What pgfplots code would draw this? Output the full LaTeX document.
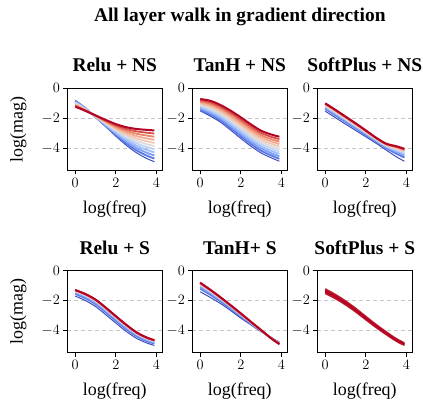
\documentclass[border=0pt]{standalone}
\usepackage{fontspec}
\setmainfont{Liberation Serif}
\usepackage{pgfplots}
\usepackage{pgfplotstable}
\pgfplotsset{compat=1.18}

\definecolor{cw0}{RGB}{59,76,192}
\definecolor{cw1}{RGB}{90,119,226}
\definecolor{cw2}{RGB}{124,158,246}
\definecolor{cw3}{RGB}{158,189,252}
\definecolor{cw4}{RGB}{191,210,243}
\definecolor{cw5}{RGB}{221,220,220}
\definecolor{cw6}{RGB}{240,201,182}
\definecolor{cw7}{RGB}{244,171,143}
\definecolor{cw8}{RGB}{235,131,105}
\definecolor{cw9}{RGB}{214,78,69}
\definecolor{cw10}{RGB}{180,4,38}

\pgfplotstableread{
x y0 y1 y2 y3 y4 y5 y6 y7 y8 y9 y10
0 -0.80 -0.842 -0.884 -0.926 -0.968 -1.01 -1.052 -1.094 -1.136 -1.178 -1.22
0.5 -1.30 -1.32 -1.34 -1.36 -1.38 -1.40 -1.42 -1.44 -1.46 -1.48 -1.50
1 -1.92 -1.908 -1.896 -1.884 -1.872 -1.86 -1.848 -1.836 -1.824 -1.812 -1.80
1.5 -2.55 -2.505 -2.46 -2.415 -2.37 -2.325 -2.28 -2.235 -2.19 -2.145 -2.10
2 -3.18 -3.10 -3.02 -2.94 -2.86 -2.78 -2.70 -2.62 -2.54 -2.46 -2.38
2.5 -3.77 -3.651 -3.532 -3.413 -3.294 -3.175 -3.056 -2.937 -2.818 -2.699 -2.58
3 -4.27 -4.113 -3.956 -3.799 -3.642 -3.485 -3.328 -3.171 -3.014 -2.857 -2.70
3.5 -4.65 -4.461 -4.272 -4.083 -3.894 -3.705 -3.516 -3.327 -3.138 -2.949 -2.76
3.9 -4.88 -4.672 -4.464 -4.256 -4.048 -3.84 -3.632 -3.424 -3.216 -3.008 -2.80
}\tabA

\pgfplotstableread{
x y0 y1 y2 y3 y4 y5 y6 y7 y8 y9 y10
0 -1.50 -1.421 -1.342 -1.263 -1.184 -1.105 -1.026 -0.947 -0.868 -0.789 -0.71
0.5 -1.85 -1.748 -1.646 -1.544 -1.442 -1.34 -1.238 -1.136 -1.034 -0.932 -0.83
1 -2.25 -2.136 -2.022 -1.908 -1.794 -1.68 -1.566 -1.452 -1.338 -1.224 -1.11
1.5 -2.78 -2.651 -2.522 -2.393 -2.264 -2.135 -2.006 -1.877 -1.748 -1.619 -1.49
2 -3.33 -3.19 -3.05 -2.91 -2.77 -2.63 -2.49 -2.35 -2.21 -2.07 -1.93
2.5 -3.85 -3.705 -3.56 -3.415 -3.27 -3.125 -2.98 -2.835 -2.69 -2.545 -2.40
3 -4.30 -4.152 -4.004 -3.856 -3.708 -3.56 -3.412 -3.264 -3.116 -2.968 -2.82
3.5 -4.62 -4.465 -4.31 -4.155 -4.00 -3.845 -3.69 -3.535 -3.38 -3.225 -3.07
3.9 -4.85 -4.687 -4.524 -4.361 -4.198 -4.035 -3.872 -3.709 -3.546 -3.383 -3.22
}\tabB

\pgfplotstableread{
x y0 y1 y2 y3 y4 y5 y6 y7 y8 y9 y10
0 -1.52 -1.364 -1.286 -1.224 -1.172 -1.13 -1.094 -1.062 -1.036 -1.016 -1.00
0.5 -1.95 -1.794 -1.716 -1.654 -1.602 -1.56 -1.524 -1.492 -1.466 -1.446 -1.43
1 -2.38 -2.23 -2.155 -2.095 -2.045 -2.005 -1.97 -1.94 -1.915 -1.895 -1.88
1.5 -2.80 -2.659 -2.589 -2.532 -2.485 -2.448 -2.415 -2.386 -2.363 -2.344 -2.33
2 -3.22 -3.094 -3.031 -2.981 -2.939 -2.905 -2.876 -2.85 -2.829 -2.813 -2.80
2.5 -3.65 -3.539 -3.483 -3.439 -3.402 -3.372 -3.347 -3.324 -3.306 -3.291 -3.28
3 -4.10 -3.974 -3.911 -3.861 -3.819 -3.785 -3.756 -3.73 -3.709 -3.693 -3.68
3.5 -4.55 -4.34 -4.235 -4.151 -4.081 -4.025 -3.976 -3.934 -3.899 -3.871 -3.85
3.9 -4.85 -4.601 -4.477 -4.377 -4.294 -4.228 -4.169 -4.12 -4.078 -4.045 -4.02
}\tabC

\pgfplotstableread{
x y0 y1 y2 y3 y4 y5 y6 y7 y8 y9 y10
0 -1.69 -1.547 -1.465 -1.403 -1.362 -1.337 -1.321 -1.309 -1.296 -1.288 -1.28
0.5 -1.98 -1.83 -1.744 -1.679 -1.636 -1.61 -1.593 -1.58 -1.567 -1.559 -1.55
1 -2.38 -2.219 -2.127 -2.058 -2.012 -1.984 -1.966 -1.952 -1.938 -1.929 -1.92
1.5 -2.92 -2.756 -2.662 -2.591 -2.544 -2.516 -2.497 -2.483 -2.469 -2.459 -2.45
2 -3.48 -3.319 -3.227 -3.158 -3.112 -3.084 -3.066 -3.052 -3.038 -3.029 -3.02
2.5 -4.02 -3.866 -3.778 -3.712 -3.668 -3.642 -3.624 -3.611 -3.598 -3.589 -3.58
3 -4.48 -4.34 -4.26 -4.20 -4.16 -4.136 -4.12 -4.108 -4.096 -4.088 -4.08
3.5 -4.79 -4.664 -4.592 -4.538 -4.502 -4.48 -4.466 -4.455 -4.444 -4.437 -4.43
3.9 -4.97 -4.848 -4.778 -4.725 -4.69 -4.669 -4.655 -4.645 -4.634 -4.627 -4.62
}\tabD

\pgfplotstableread{
x y0 y1 y2 y3 y4 y5 y6 y7 y8 y9 y10
0 -1.40 -1.19 -1.07 -0.98 -0.92 -0.884 -0.86 -0.842 -0.824 -0.812 -0.80
0.5 -1.78 -1.602 -1.50 -1.423 -1.372 -1.341 -1.321 -1.306 -1.29 -1.28 -1.27
1 -2.18 -2.037 -1.955 -1.893 -1.852 -1.827 -1.811 -1.799 -1.786 -1.778 -1.77
1.5 -2.65 -2.528 -2.458 -2.405 -2.37 -2.349 -2.335 -2.325 -2.314 -2.307 -2.30
2 -3.15 -3.042 -2.98 -2.933 -2.902 -2.883 -2.871 -2.862 -2.852 -2.846 -2.84
2.5 -3.60 -3.53 -3.49 -3.46 -3.44 -3.428 -3.42 -3.414 -3.408 -3.404 -3.40
3 -4.05 -4.015 -3.995 -3.98 -3.97 -3.964 -3.96 -3.957 -3.954 -3.952 -3.95
3.5 -4.45 -4.468 -4.478 -4.485 -4.49 -4.493 -4.495 -4.497 -4.498 -4.499 -4.50
3.9 -4.75 -4.796 -4.822 -4.841 -4.854 -4.862 -4.867 -4.871 -4.875 -4.877 -4.88
}\tabE

\pgfplotstableread{
x y0 y1 y2 y3 y4
0 -1.51 -1.435 -1.36 -1.285 -1.21
0.5 -1.86 -1.79 -1.72 -1.65 -1.58
1 -2.27 -2.205 -2.14 -2.075 -2.01
1.5 -2.74 -2.68 -2.62 -2.56 -2.50
2 -3.26 -3.205 -3.15 -3.095 -3.04
2.5 -3.77 -3.72 -3.67 -3.62 -3.57
3 -4.24 -4.195 -4.15 -4.105 -4.06
3.5 -4.685 -4.643 -4.60 -4.558 -4.515
3.9 -4.96 -4.92 -4.88 -4.84 -4.80
}\tabF

\newcommand{\fan}[1]{%
  \addplot[cw0, line width=1bp, smooth] table[x=x,y=y0]{#1};%
  \pgfplotsinvokeforeach{1,...,9}{\addplot[cw##1, line width=1.8bp, smooth] table[x=x,y=y##1]{#1};}%
  \addplot[cw10, line width=2bp, smooth] table[x=x,y=y10]{#1};%
}

\pgfplotsset{
  panel/.style={
    scale only axis, width=95bp, height=82bp, anchor=north west,
    xmin=-0.39, xmax=4.29, ymin=-5.45, ymax=0,
    xtick={0,2,4}, ytick={0,-2,-4},
    xtick pos=bottom, ytick pos=left, tick align=outside,
    major tick length=4bp, tick style={black, line width=0.8bp},
    axis line style={line width=1bp},
    ymajorgrids, grid style={black!22, dash pattern=on 4bp off 3bp, line width=0.8bp},
    tick label style={font=\fontsize{14}{14}\selectfont},
    title style={font=\bfseries\fontsize{19.5}{19.5}\selectfont, at={(axis description cs:0.5,1.1305)}, anchor=base},
    xlabel={log(freq)},
    xlabel style={font=\fontsize{18}{18}\selectfont, at={(axis description cs:0.5,-0.524)}, anchor=base},
    ylabel style={font=\fontsize{18}{18}\selectfont, at={(axis description cs:-0.516,0.5)}, anchor=center},
  }
}

\begin{document}
\begin{tikzpicture}
\useasboundingbox (0,0) rectangle (423bp,402bp);
\node[anchor=base, font=\bfseries\fontsize{19.5}{19.5}\selectfont] at (239.8bp,380bp) {All layer walk in gradient direction};

\begin{axis}[panel, at={(67.3bp,313.7bp)}, title={Relu + NS}, ylabel={log(mag)}]
\fan{\tabA}
\end{axis}
\begin{axis}[panel, at={(192.3bp,313.7bp)}, title={TanH + NS}]
\fan{\tabB}
\end{axis}
\begin{axis}[panel, at={(317.3bp,313.7bp)}, title={SoftPlus + NS}]
\fan{\tabC}
\end{axis}

\begin{axis}[panel, at={(67.3bp,131.3bp)}, title={Relu + S}, ylabel={log(mag)}]
\fan{\tabD}
\end{axis}
\begin{axis}[panel, at={(192.3bp,131.3bp)}, title={TanH+ S}]
\fan{\tabE}
\end{axis}
\begin{axis}[panel, at={(317.3bp,131.3bp)}, title={SoftPlus + S}]
\addplot[cw10!60!cw9, line width=1.5bp, smooth] table[x=x,y=y0]{\tabF};
\addplot[cw10!60!cw9, line width=1.5bp, smooth] table[x=x,y=y4]{\tabF};
\addplot[cw10!85!cw9, line width=1.5bp, smooth] table[x=x,y=y1]{\tabF};
\addplot[cw10!85!cw9, line width=1.5bp, smooth] table[x=x,y=y3]{\tabF};
\addplot[cw10, line width=1.5bp, smooth] table[x=x,y=y2]{\tabF};
\end{axis}
\end{tikzpicture}
\end{document}
